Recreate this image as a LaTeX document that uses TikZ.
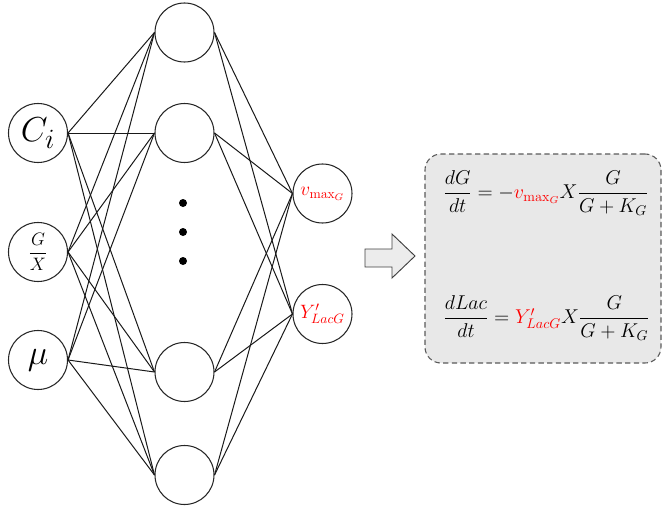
\RequirePackage{fix-cm}
\documentclass[tikz,border=0pt]{standalone}
\usepackage{amsmath}
\usepackage{graphicx}
\usetikzlibrary{calc}
\definecolor{boxfill}{RGB}{232,232,232}
\definecolor{boxline}{RGB}{90,90,90}
\definecolor{arrowfill}{RGB}{236,236,236}
\definecolor{eqred}{RGB}{255,0,0}
\begin{document}
\begin{tikzpicture}[x=0.75pt,y=-0.75pt,
  neuron/.style={circle, draw=black!85, line width=0.8pt, minimum size=44.25pt, inner sep=0pt},
  conn/.style={draw=black!90, line width=0.75pt},
  dotnode/.style={circle, fill=black, minimum size=6pt, inner sep=0pt},
  eqbox/.style={draw=boxline, dashed, dash pattern=on 4pt off 2.5pt, line width=0.8pt, fill=boxfill, rounded corners=12pt, minimum width=177pt, minimum height=156.75pt},
  eq/.style={anchor=west, inner sep=0pt, font=\fontsize{15}{18}\selectfont}]
\useasboundingbox (0,0) rectangle (662,511);

% input layer
\node[neuron] (i1) at (38,133) {\fontsize{26}{30}\selectfont $C_{\scalebox{1.15}{$\scriptstyle i$}}$};
\node[neuron] (i2) at (38,252) {\fontsize{13.5}{16}\selectfont $\dfrac{G}{X}$};
\node[neuron] (i3) at (38,360) {\fontsize{26}{30}\selectfont $\mu$};

% hidden layer
\node[neuron] (h1) at (184.5,32.5) {};
\node[neuron] (h2) at (184.5,133) {};
\node[neuron] (h3) at (184.5,372) {};
\node[neuron] (h4) at (184.5,475) {};
\node[dotnode] (d1) at (183,203) {};
\node[dotnode] (d2) at (183,232) {};
\node[dotnode] (d3) at (183,261) {};

% output layer
\node[neuron] (o1) at (322.5,193.5) {\fontsize{14.5}{16}\selectfont $\color{eqred}v_{\mathrm{max}_G}$};
\node[neuron] (o2) at (322.5,314) {\fontsize{14.5}{16}\selectfont $\color{eqred}Y'_{LacG}$};

% connections
\foreach \i in {i1,i2,i3}
  \foreach \h in {h1,h2,h3,h4}
    \draw[conn] (\i.east) -- (\h.west);
\foreach \h in {h1,h2,h3,h4}
  \foreach \o in {o1,o2}
    \draw[conn] (\h.east) -- (\o.west);

% block arrow
\draw[draw=black!75, line width=0.7pt, fill=arrowfill]
  (365,249) -- (392,249) -- (392,234) -- (415,256) -- (392,278) -- (392,267) -- (365,267) -- cycle;

% equation box
\node[eqbox] (box) at (543,258.5) {};
\node[eq] (eq1) at (443,193) {$\dfrac{dG}{dt} = -{\color{eqred}v_{\mathrm{max}_G}}X\dfrac{G}{G+K_G}$};
\node[eq] (eq2) at (443,318) {$\dfrac{dLac}{dt} = {\color{eqred}Y'_{LacG}}X\dfrac{G}{G+K_G}$};
\end{tikzpicture}
\end{document}
